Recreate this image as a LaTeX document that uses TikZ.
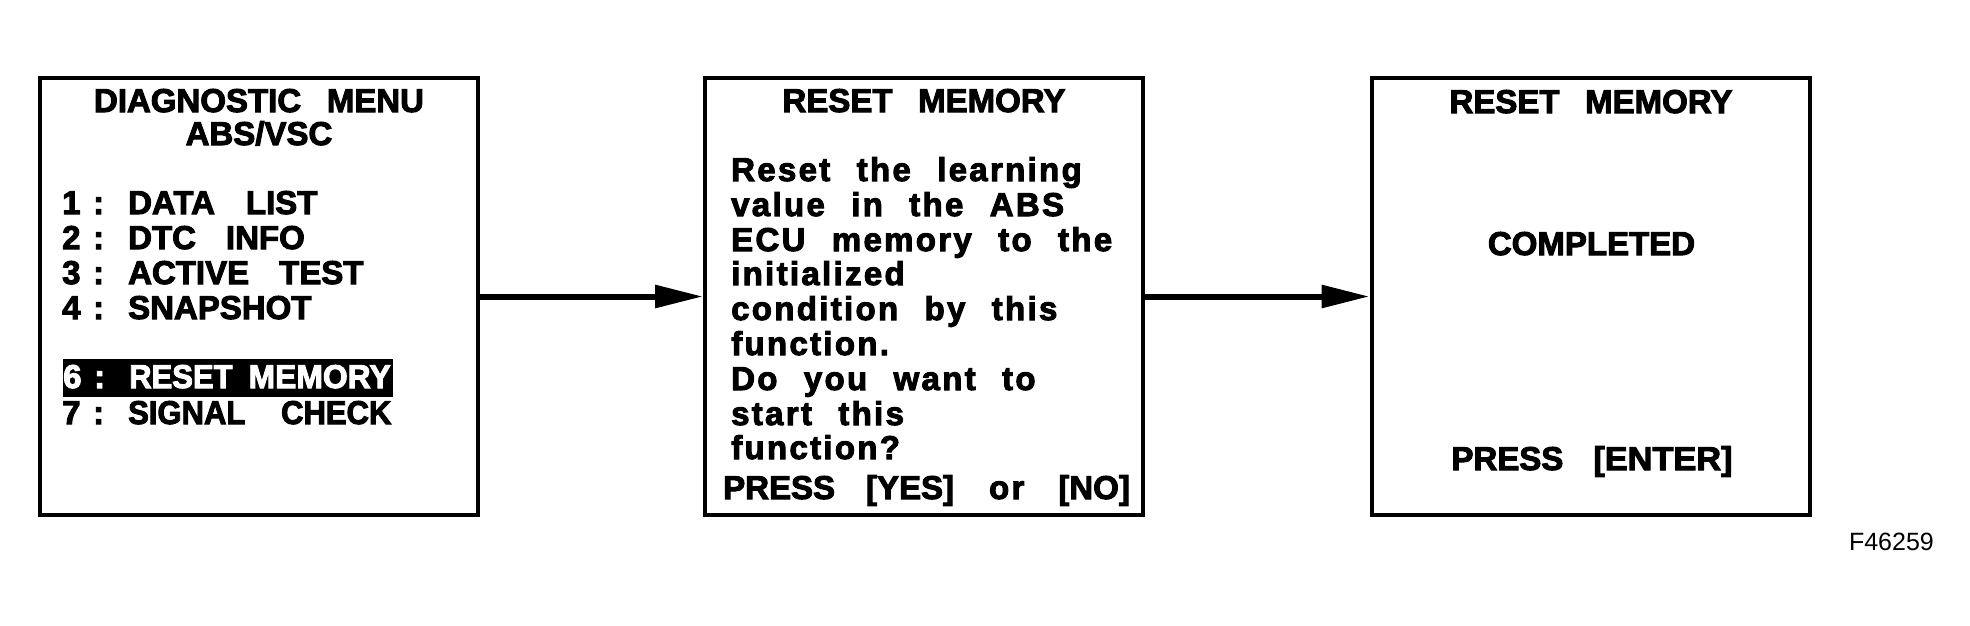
\documentclass[tikz,border=0pt]{standalone}
\usepackage{fontspec}
\usepackage{graphicx}
\setmainfont{Liberation Sans}
\newfontfamily\menufont{Liberation Sans}[WordSpace=2.8, BoldFeatures={FakeBold=3}]
\newfontfamily\msgfont{Liberation Sans}[WordSpace=2.3, LetterSpace=7, BoldFeatures={FakeBold=3}]
\usetikzlibrary{arrows.meta}
\newcommand\mitem[2]{\makebox[31pt][l]{#1}\makebox[35pt][l]{:}#2}
\begin{document}
\begin{tikzpicture}[x=1pt,y=-1pt,
  screen/.style={draw, line width=4pt, minimum width=438pt, minimum height=437pt, inner sep=0pt},
  title/.style={anchor=base, inner sep=0pt, font=\menufont\bfseries\fontsize{33pt}{35pt}\selectfont},
  mline/.style={anchor=base west, inner sep=0pt, font=\menufont\bfseries\fontsize{33pt}{35pt}\selectfont},
  msg/.style={anchor=base west, inner sep=0pt, font=\msgfont\bfseries\fontsize{33pt}{35pt}\selectfont},
  flow/.style={line width=6pt, -{Triangle[length=48pt,width=22pt]}}]
\useasboundingbox (0,0) rectangle (1970,625);
% screens
\node[screen] (b1) at (259,296.5) {};
\node[screen] (b2) at (924,296.5) {};
\node[screen] (b3) at (1590.5,296.5) {};
% screen 1
\node[title] (t1) at (259,112) {DIAGNOSTIC MENU};
\node[title] (t1b) at (259,145) {ABS/VSC};
\node[mline] (m1) at (62,214) {\mitem{1}{DATA\hspace{31pt}LIST}};
\node[mline] (m2) at (62,249) {\mitem{2}{DTC\hspace{30pt}INFO}};
\node[mline] (m3) at (62,284) {\mitem{3}{ACTIVE\hspace{30pt}TEST}};
\node[mline] (m4) at (62,319) {\mitem{4}{SNAPSHOT}};
\node[mline, fill=black, text=white, text height=29pt, text depth=9pt] (m6) at (63,388)
  {\makebox[330pt][l]{\mitem{6}{\scalebox{0.94}[1]{RESET}\hspace{16pt}\scalebox{0.965}[1]{MEMORY}}}};
\node[mline] (m7) at (62,424) {\mitem{7}{\scalebox{0.94}[1]{SIGNAL\hspace{38pt}CHECK}}};
% screen 2
\node[title] (t2) at (924,112) {RESET MEMORY};
\node[msg] (s1) at (731,181) {Reset the learning};
\node[msg] (s2) at (731,216) {value in the ABS};
\node[msg] (s3) at (731,251) {ECU memory to the};
\node[msg] (s4) at (731,285) {initialized};
\node[msg] (s5) at (731,320) {condition by this};
\node[msg] (s6) at (731,355) {function.};
\node[msg] (s7) at (731,390) {Do you want to};
\node[msg] (s8) at (731,425) {start this};
\node[msg] (s9) at (731,459) {function?};
\node[mline] (s10) at (723,499) {PRESS\hspace{31pt}[YES]\hspace{35pt}{\msgfont\bfseries or}\hspace{34pt}[NO]};
% screen 3
\node[title] (t3) at (1591,113) {RESET MEMORY};
\node[title] (c3) at (1591.5,255) {COMPLETED};
\node[title] (p3) at (1592,470) {PRESS\hspace{30pt}\scalebox{1.04}[1]{[ENTER]}};
% connectors
\draw[flow] (b1.east) -- (b2.west);
\draw[flow] (b2.east) -- (b3.west);
% figure code
\node[anchor=base east, inner sep=0pt, font=\fontsize{25pt}{25pt}\selectfont] (code) at (1934,550) {F46259};
\end{tikzpicture}
\end{document}
